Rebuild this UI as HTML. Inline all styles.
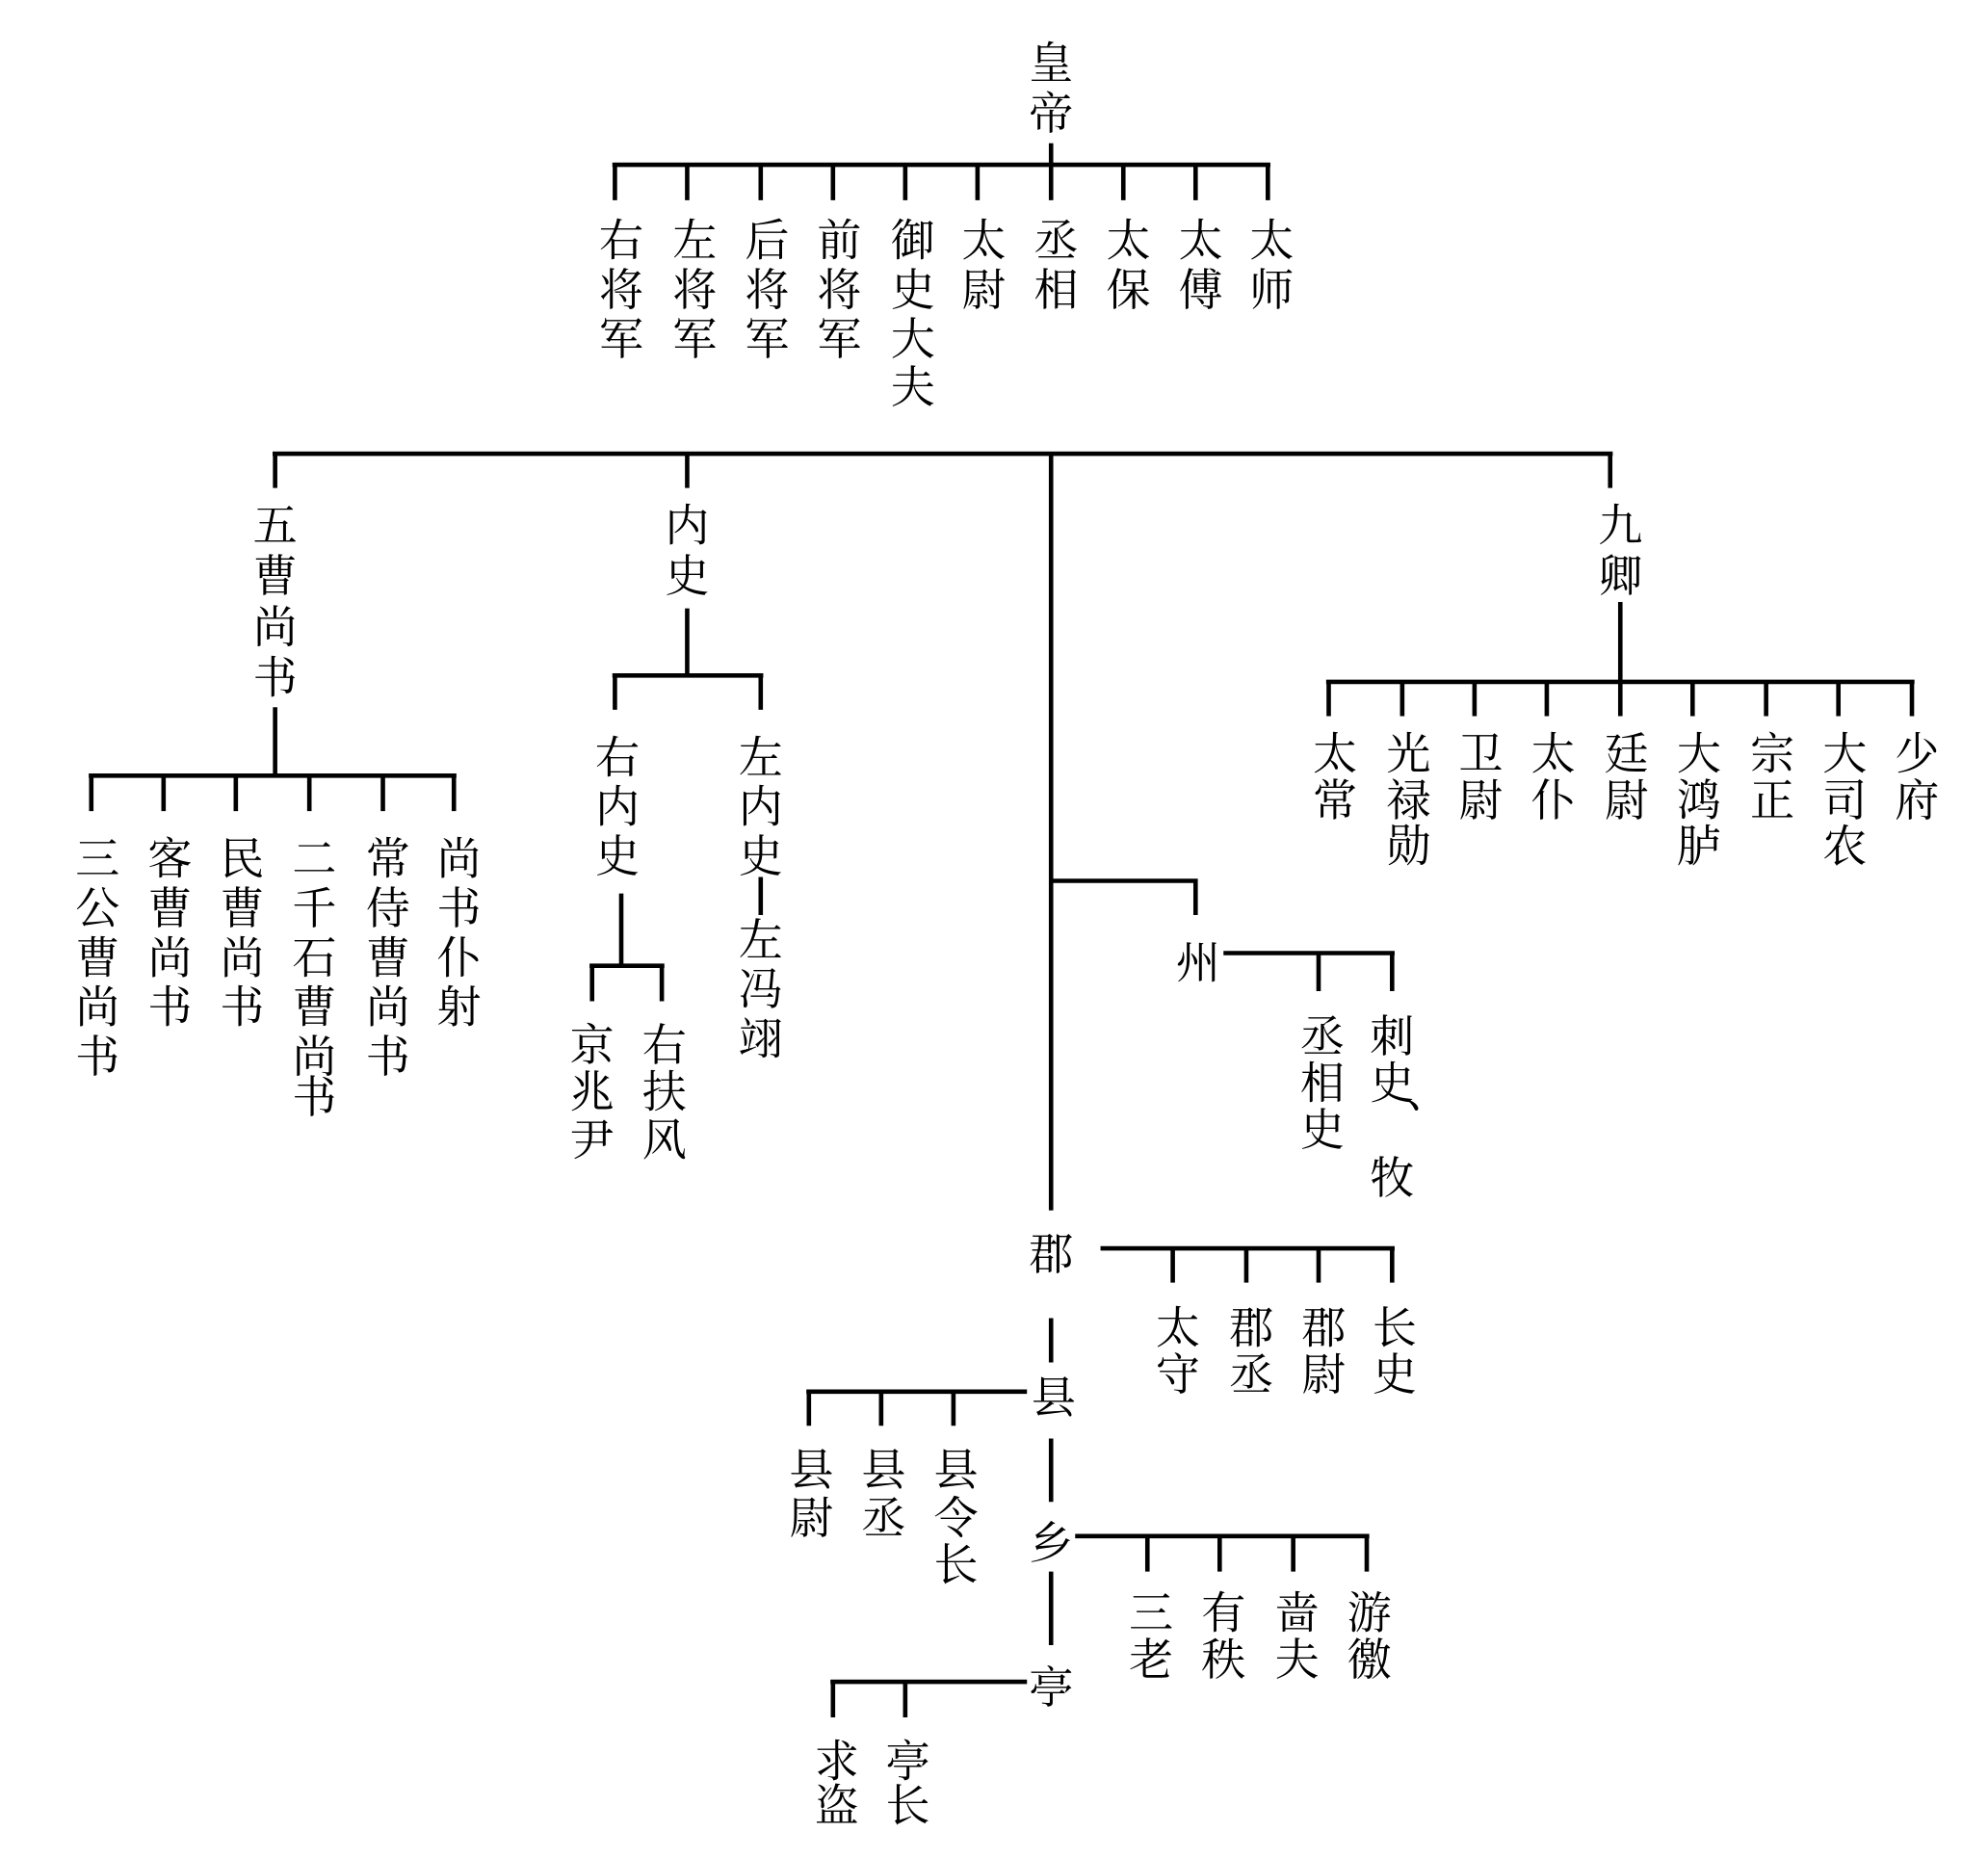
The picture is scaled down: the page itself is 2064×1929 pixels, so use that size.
<!DOCTYPE html>
<html><head><meta charset="utf-8"><style>
html,body{margin:0;padding:0;background:#fff;}
svg{display:block;}
text{font-family:"Liberation Serif","Noto Serif CJK SC",serif;font-size:35px;fill:#000;text-anchor:middle;dominant-baseline:central;}
</style></head><body>
<svg width="2064" height="1929" viewBox="0 0 1568 1466" preserveAspectRatio="none" xmlns="http://www.w3.org/2000/svg">
<g stroke="#000" stroke-width="3.5" fill="none">
<line x1="829" y1="113" x2="829" y2="130"/>
<line x1="483" y1="130" x2="1002" y2="130"/>
<path d="M485 130V158M542 130V158M600 130V158M657 130V158M714 130V158M771 130V158M829 130V158M886 130V158M943 130V158M1000 130V158"/>
<line x1="215" y1="358" x2="1272" y2="358"/>
<path d="M217 358V385M542 358V385M1270 358V385M829 358V955"/>
<path d="M217 558V612M70 612H360M72 612V640M129 612V640M186 612V640M244 612V640M302 612V640M358 612V640"/>
<path d="M542 480V533M483 533H602M485 533V560M600 533V560M600 692V722M490 705V762M465 762H524M467 762V790M522 762V790"/>
<path d="M1278 475V538M1046 538H1510M1048 538V565M1106 538V565M1163 538V565M1220 538V565M1278 538V565M1335 538V565M1393 538V565M1450 538V565M1508 538V565"/>
<path d="M829 695H943V722M965 752H1100M1040 752V782M1098 752V782"/>
<path d="M868 985H1100M925 985V1012M983 985V1012M1040 985V1012M1098 985V1012M829 1040V1075"/>
<path d="M636 1098H810M638 1098V1125M695 1098V1125M752 1098V1125M829 1135V1185"/>
<path d="M848 1212H1080M905 1212V1240M962 1212V1240M1020 1212V1240M1078 1212V1240M829 1240V1298"/>
<path d="M655 1327H810M657 1327V1355M714 1327V1355"/>
</g>
<g>
<text x="829" y="50">皇</text><text x="829" y="90">帝</text>
<text x="490" y="190">右</text><text x="490" y="229">将</text><text x="490" y="268">军</text>
<text x="548" y="190">左</text><text x="548" y="229">将</text><text x="548" y="268">军</text>
<text x="605" y="190">后</text><text x="605" y="229">将</text><text x="605" y="268">军</text>
<text x="662" y="190">前</text><text x="662" y="229">将</text><text x="662" y="268">军</text>
<text x="720" y="190">御</text><text x="720" y="229">史</text><text x="720" y="268">大</text><text x="720" y="306">夫</text>
<text x="776" y="190">太</text><text x="776" y="229">尉</text>
<text x="833" y="190">丞</text><text x="833" y="229">相</text>
<text x="890" y="190">太</text><text x="890" y="229">保</text>
<text x="947" y="190">太</text><text x="947" y="229">傅</text>
<text x="1003" y="190">太</text><text x="1003" y="229">师</text>
<text x="217" y="415">五</text><text x="217" y="455">曹</text><text x="217" y="495">尚</text><text x="217" y="535">书</text>
<text x="77" y="678">三</text><text x="77" y="717">公</text><text x="77" y="756">曹</text><text x="77" y="795">尚</text><text x="77" y="834">书</text>
<text x="134" y="678">客</text><text x="134" y="717">曹</text><text x="134" y="756">尚</text><text x="134" y="795">书</text>
<text x="191" y="678">民</text><text x="191" y="717">曹</text><text x="191" y="756">尚</text><text x="191" y="795">书</text>
<text x="248" y="678">二</text><text x="248" y="717">千</text><text x="248" y="756">石</text><text x="248" y="795">曹</text><text x="248" y="834">尚</text><text x="248" y="866">书</text>
<text x="306" y="678">常</text><text x="306" y="717">侍</text><text x="306" y="756">曹</text><text x="306" y="795">尚</text><text x="306" y="834">书</text>
<text x="362" y="678">尚</text><text x="362" y="717">书</text><text x="362" y="756">仆</text><text x="362" y="795">射</text>
<text x="542" y="415">内</text><text x="542" y="455">史</text>
<text x="487" y="598">右</text><text x="487" y="637">内</text><text x="487" y="676">史</text>
<text x="600" y="598">左</text><text x="600" y="637">内</text><text x="600" y="676">史</text>
<text x="600" y="742">左</text><text x="600" y="781">冯</text><text x="600" y="820">翊</text>
<text x="467" y="825">京</text><text x="467" y="862">兆</text><text x="467" y="900">尹</text>
<text x="524" y="825">右</text><text x="524" y="862">扶</text><text x="524" y="900">风</text>
<text x="1278" y="415">九</text><text x="1278" y="455">卿</text>
<text x="1053" y="595">太</text><text x="1053" y="632">常</text>
<text x="1111" y="595">光</text><text x="1111" y="632">禄</text><text x="1111" y="668">勋</text>
<text x="1168" y="595">卫</text><text x="1168" y="632">尉</text>
<text x="1225" y="595">太</text><text x="1225" y="632">仆</text>
<text x="1283" y="595">廷</text><text x="1283" y="632">尉</text>
<text x="1340" y="595">大</text><text x="1340" y="632">鸿</text><text x="1340" y="668">胪</text>
<text x="1398" y="595">宗</text><text x="1398" y="632">正</text>
<text x="1455" y="595">大</text><text x="1455" y="632">司</text><text x="1455" y="668">农</text>
<text x="1512" y="595">少</text><text x="1512" y="632">府</text>
<text x="945" y="760">州</text>
<text x="1043" y="818">丞</text><text x="1043" y="855">相</text><text x="1043" y="892">史</text>
<text x="1098" y="818">刺</text><text x="1098" y="855">史</text><text x="1126" y="862">、</text><text x="1098" y="930">牧</text>
<text x="829" y="990">郡</text>
<text x="929" y="1048">太</text><text x="929" y="1085">守</text>
<text x="987" y="1048">郡</text><text x="987" y="1085">丞</text>
<text x="1044" y="1048">郡</text><text x="1044" y="1085">尉</text>
<text x="1100" y="1048">长</text><text x="1100" y="1085">史</text>
<text x="831" y="1103">县</text>
<text x="640" y="1160">县</text><text x="640" y="1198">尉</text>
<text x="697" y="1160">县</text><text x="697" y="1198">丞</text>
<text x="754" y="1160">县</text><text x="754" y="1198">令</text><text x="754" y="1235">长</text>
<text x="829" y="1218">乡</text>
<text x="908" y="1273">三</text><text x="908" y="1310">老</text>
<text x="965" y="1273">有</text><text x="965" y="1310">秩</text>
<text x="1023" y="1273">啬</text><text x="1023" y="1310">夫</text>
<text x="1080" y="1273">游</text><text x="1080" y="1310">徼</text>
<text x="829" y="1332">亭</text>
<text x="660" y="1390">求</text><text x="660" y="1425">盗</text>
<text x="716" y="1390">亭</text><text x="716" y="1425">长</text>
</g>
</svg>
</body></html>
